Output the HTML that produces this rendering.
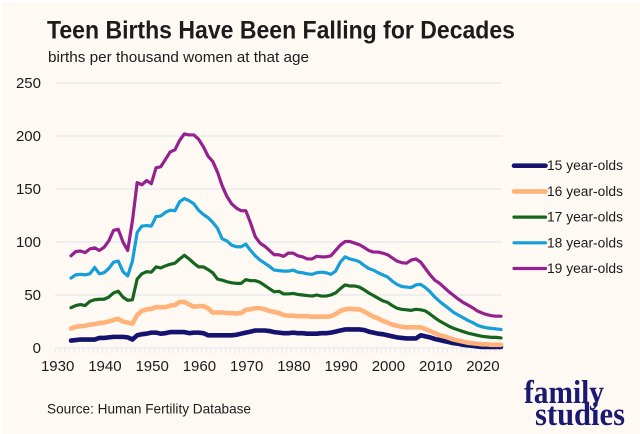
<!DOCTYPE html>
<html>
<head>
<meta charset="utf-8">
<style>
html,body{margin:0;padding:0;background:#fff;}
svg{display:block;font-family:"Liberation Sans",sans-serif;}
</style>
</head>
<body>
<svg id="chart" xmlns="http://www.w3.org/2000/svg" width="640" height="434" viewBox="0 0 640 434">
  <rect x="2" y="2" width="638" height="432" fill="#fff9f4"/>
  <text x="47" y="38.5" font-size="25" font-weight="700" fill="#1c1c1c" textLength="468" lengthAdjust="spacingAndGlyphs">Teen Births Have Been Falling for Decades</text>
  <text x="48" y="62" font-size="15" fill="#1c1c1c" textLength="261" lengthAdjust="spacingAndGlyphs">births per thousand women at that age</text>
  <g id="grid"></g>
  <g id="yticks"></g>
  <g id="xticks"></g>
  <g id="series"></g>
  <g id="legend"></g>
  <text x="47" y="413.5" font-size="14" fill="#1c1c1c" textLength="204" lengthAdjust="spacingAndGlyphs">Source: Human Fertility Database</text>
  <g font-family="'Liberation Serif',serif" font-weight="700" fill="#1a1a72">
    <text x="524" y="403" font-size="33" textLength="80" lengthAdjust="spacingAndGlyphs">family</text>
    <text x="535" y="425" font-size="33" textLength="90" lengthAdjust="spacingAndGlyphs">studies</text>
  </g>
</svg>
<script>
const firstYear = 1933;
const yTickValues = [0, 50, 100, 150, 200, 250];
const xTickLabels = [1930, 1940, 1950, 1960, 1970, 1980, 1990, 2000, 2010, 2020];
const seriesNames = ["15 year-olds", "16 year-olds", "17 year-olds", "18 year-olds", "19 year-olds"];
const age15 = [7,7.5,8,8,8,8,9.5,
  9.5,10,10.5,10.5,10.5,10,8,12,13,13.5,
  14.5,14.5,13.5,14,15,15,15,15,14,14.5,
  14.5,14,12,12,12,12,12,12,12.5,13.5,
  14.5,15.5,16.5,16.5,16.5,16,15,14.5,14,14,
  14.5,14,14,13.5,13.5,13.5,14,14,14.5,15.5,
  16.5,17.5,17.5,17.5,17.5,17,15.5,14.5,13.5,13,
  12,11,10,9.5,9,9,9,12,11,10,
  8.5,7.5,6.5,5.5,4.5,4,3,2.5,2,1.5,
  1,1,1,1,1];
const age16 = [18.5,20,20.5,21,22,22.5,23.5,
  24,25,26.5,27.5,25,24,23,31,35,36.5,
  37,38.5,38.5,38.5,40,40.5,43.5,43.5,41,39,
  39.5,39.5,37.5,33.5,33.5,33.5,33,33,32.5,33,
  36,36.5,37.5,37.5,36.5,35,34,33,31,30.5,
  30.5,30,30,30,29.5,29.5,29.5,29.5,30,32,
  35,36.5,37,36.5,36.5,34.5,32,29.5,28,25.5,
  24,22,21,20,19.5,19.5,19.5,19.5,18,16,
  14,12,11,9.5,8,7,6,5,4.5,4,
  3.5,3.5,3,3,3];
const age17 = [38,40,41,40,44,45.5,46,
  46,48,52,53.5,48,45,45.5,65,70,72,
  71.5,76.5,75.5,77.5,79,80,84,87.5,84,80,
  76.5,76.5,74,71,65,64,62.5,61.5,61,61,
  64.5,63.5,63.5,62,59,56,53,53.5,51,51,
  51.5,50.5,50,49.5,49,50,49,49,50,52,
  56,59.5,58.5,58.5,57.5,55,52,49.5,47,44.5,
  43,40,37.5,36.5,36,35.5,36.5,36,35,32,
  28.5,25.5,23,20.5,18.5,17,15.5,14,13,12,
  11,10.5,10,10,9.5];
const age18 = [66,69,69.5,69,70,76,70,
  71,75,81,82,72,68,82,109,115,115.5,
  115,124,124.5,128,130,129.5,138,141,139,136,
  130,126,123,118.5,113,103,101,97,95.5,95.5,
  98,92,87,83,80,77,73.5,73,72.5,72.5,
  73.5,71.5,71,70,69.5,71,71.5,71,69.5,72.5,
  81,86,84,83,81.5,78,75,73.5,71,69,
  67,63,60,58,57.5,57,59.5,60,57,53,
  48,44,40.5,37,33.5,31,28.5,26,24,21.5,
  20,19,18.5,18,17.5];
const age19 = [87,91,91.5,90,93.5,94.5,92,
  95,101,111,112,100,92,120,156,154,158,
  155,170,171,178,185,187,196,202,201,201,
  197,190,181,176,166,153,143,136,132,129.5,
  129.5,118,105,99,96,92,88,88,86.5,89.5,
  89.5,87,86,84,84,86.5,86,86,87,92,
  97,100.5,100.5,99,97.5,95,92,90.5,90.5,89.5,
  88,85,82,80.5,80,83,84,81,75,69,
  64,61,57,53,49.5,46,43,40.5,38,35,
  33,31.5,30.5,30,30];
const seriesValues = [age15, age16, age17, age18, age19];
const seriesColors = ["#141470", "#ffb27a", "#14661e", "#149fd8", "#95218f"];
const seriesWidths = [4.6, 4.6, 3.2, 3.2, 3.2];

const NS = "http://www.w3.org/2000/svg";
function xScale(year){ return 71 + (year - firstYear) * 4.725; }
function yScale(v){ return 348 - v * 1.06; }
function make(tag, attrs, parent, txt){
  const el = document.createElementNS(NS, tag);
  for (const k in attrs) el.setAttribute(k, attrs[k]);
  if (txt !== undefined) el.textContent = txt;
  parent.appendChild(el);
  return el;
}
const grid = document.getElementById("grid");
const yticks = document.getElementById("yticks");
const xticks = document.getElementById("xticks");
const seriesG = document.getElementById("series");
const legend = document.getElementById("legend");

yTickValues.forEach(function(v){
  if (v !== 0) {
    const g = make("line", {x1:55, x2:502, y1:yScale(v), y2:yScale(v), stroke:"#dfe3ea", "stroke-width":1}, grid);
    
    
  }
  const t = make("text", {x:41, y:yScale(v)+5.2, "text-anchor":"end", "font-size":15, fill:"#1c1c1c"}, yticks, String(v));
  
  
});

const axisLine = make("line", {x1:55, x2:502, y1:yScale(0), y2:yScale(0), stroke:"#e3e6ec", "stroke-width":1}, xticks);


for (let yr = 1930; yr <= 2024; yr++) {
  const tk = make("line", {x1:xScale(yr)-1.6, x2:xScale(yr)-1.6, y1:yScale(0), y2:yScale(0)+5, stroke:"#e6e8ee", "stroke-width":1}, xticks);
  
  
}
xTickLabels.forEach(function(yr){
  const t = make("text", {x:xScale(yr)+0.8, y:371, "text-anchor":"middle", "font-size":15, fill:"#1c1c1c"}, xticks, String(yr));
  
  
});

seriesValues.forEach(function(vals, i){
  const pts = vals.map(function(v, j){ return xScale(firstYear + j).toFixed(2) + "," + yScale(v).toFixed(2); }).join(" ");
  const line = make("polyline", {points:pts, fill:"none", stroke:seriesColors[i], "stroke-width":seriesWidths[i], "stroke-linejoin":"round", "stroke-linecap":"round"}, seriesG);
  
  

  const ly = 165.7 + i * 25.7;
  const sw = make("line", {x1:514, x2:545.5, y1:ly, y2:ly, stroke:seriesColors[i], "stroke-width":seriesWidths[i], "stroke-linecap":"round"}, legend);
  
  
  const lt = make("text", {x:547, y:ly+4.5, "font-size":13.5, fill:"#1c1c1c", textLength:76, lengthAdjust:"spacingAndGlyphs"}, legend, seriesNames[i]);
  
  
});
</script>
</body>
</html>
